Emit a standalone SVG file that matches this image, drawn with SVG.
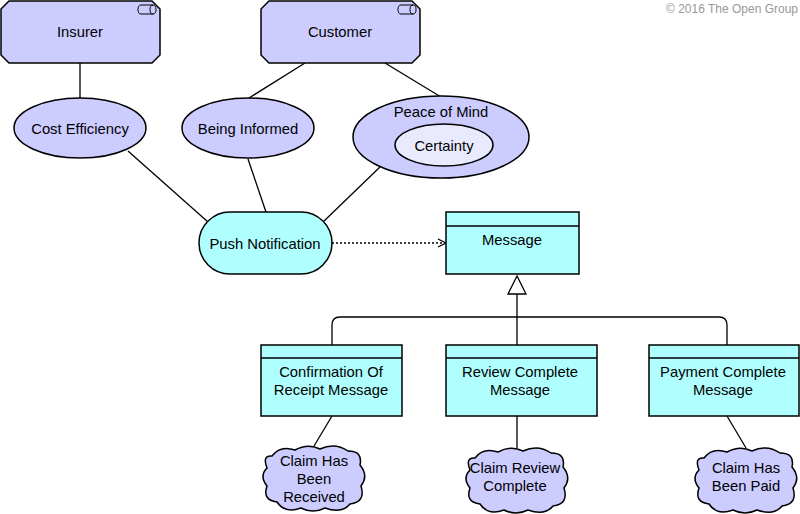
<svg xmlns="http://www.w3.org/2000/svg" width="800" height="514" viewBox="0 0 800 514">
<defs>
<style>
text{font-family:"Liberation Sans",Arial,sans-serif;font-size:14.8px;fill:#000;text-anchor:middle}
.p{fill:#ccccff;stroke:#000;stroke-width:1.5}
.c{fill:#b0ffff;stroke:#000;stroke-width:1.5}
.l{fill:#eaeaff;stroke:#000;stroke-width:1.5}
.ln{fill:none;stroke:#000;stroke-width:1.3}
.ic{fill:none;stroke:#000;stroke-width:1}
.cp{font-size:12px;fill:#999;text-anchor:end}
</style>
<path id="cloud" d="M10,12 Q18,1 33,6 Q46,-1 58,5 Q73,-2 86,7 Q101,7 98,21 Q107,32 99,42 Q104,58 88,60 Q80,70 63,64 Q51,70 39,64 Q23,70 15,58 Q0,56 5,42 Q-3,32 5,24 Q0,11 10,12 Z"/>
</defs>
<text class="cp" x="798" y="13">© 2016 The Open Group</text>
<g id="connectors">
<path class="ln" d="M80,63 V98"/>
<path class="ln" d="M305,63 L249,98"/>
<path class="ln" d="M385,63 L441,97"/>
<path class="ln" d="M128,151 L208,222"/>
<path class="ln" d="M248,159 L266,212"/>
<path class="ln" d="M380,167 L323,222"/>
<path class="ln" d="M332,243 H445" stroke-dasharray="2,2"/>
<path class="ln" d="M438,239 L446,243 L438,247"/>
<path class="ln" d="M517,294 V345"/>
<path class="ln" d="M332,345 V325 Q332,317 340,317 H719 Q727,317 727,325 V345"/>
<polygon points="517,276 508,294 526,294" fill="#fff" stroke="#000" stroke-width="1.3"/>
<path class="ln" d="M332,416 L314,446"/>
<path class="ln" d="M517,416 V448"/>
<path class="ln" d="M727,416 L746,448"/>
</g>
<g id="insurer">
<polygon class="p" points="9,1 152,1 160,9 160,55 152,63 9,63 1,55 1,9"/>
<path class="ic" d="M141,5 h12 a3,4.5 0 0 1 0,9 h-12 a3,4.5 0 0 1 0,-9 z M153,5 a3,4.5 0 0 0 0,9"/>
<text x="80" y="37">Insurer</text>
</g>
<g id="customer">
<polygon class="p" points="269,1 412,1 420,9 420,55 412,63 269,63 261,55 261,9"/>
<path class="ic" d="M401,5 h12 a3,4.5 0 0 1 0,9 h-12 a3,4.5 0 0 1 0,-9 z M413,5 a3,4.5 0 0 0 0,9"/>
<text x="340" y="37">Customer</text>
</g>
<g id="cost-efficiency">
<ellipse class="p" cx="80" cy="128" rx="66" ry="30"/>
<text x="80" y="134">Cost Efficiency</text>
</g>
<g id="being-informed">
<ellipse class="p" cx="248" cy="128" rx="66" ry="30"/>
<text x="248" y="134">Being Informed</text>
</g>
<g id="peace-of-mind">
<ellipse class="p" cx="441" cy="137" rx="88" ry="41"/>
<text x="441" y="117">Peace of Mind</text>
</g>
<g id="certainty">
<ellipse class="l" cx="444" cy="145" rx="49" ry="21"/>
<text x="444" y="151">Certainty</text>
</g>
<g id="push-notification">
<rect class="c" x="199" y="212" width="133" height="62" rx="31" ry="31"/>
<text x="265" y="249">Push Notification</text>
</g>
<g id="message">
<rect class="c" x="446" y="212" width="133" height="62"/>
<path class="ln" d="M446,226 H579"/>
<text x="512" y="245">Message</text>
</g>
<g id="confirmation">
<rect class="c" x="261" y="345" width="141" height="71"/>
<path class="ln" d="M261,358 H402"/>
<text x="331" y="377">Confirmation Of</text>
<text x="331" y="395">Receipt Message</text>
</g>
<g id="review-complete">
<rect class="c" x="446" y="345" width="151" height="71"/>
<path class="ln" d="M446,358 H597"/>
<text x="520" y="377">Review Complete</text>
<text x="520" y="395">Message</text>
</g>
<g id="payment-complete">
<rect class="c" x="649" y="345" width="150" height="71"/>
<path class="ln" d="M649,358 H799"/>
<text x="723" y="377">Payment Complete</text>
<text x="723" y="395">Message</text>
</g>
<g id="claim-received">
<use href="#cloud" class="p" transform="translate(262,444)"/>
<text x="314" y="466">Claim Has</text>
<text x="314" y="484">Been</text>
<text x="314" y="502">Received</text>
</g>
<g id="claim-review">
<use href="#cloud" class="p" transform="translate(465,446)"/>
<text x="515" y="473">Claim Review</text>
<text x="515" y="491">Complete</text>
</g>
<g id="claim-paid">
<use href="#cloud" class="p" transform="translate(694,446)"/>
<text x="746" y="473">Claim Has</text>
<text x="746" y="491">Been Paid</text>
</g>
</svg>
